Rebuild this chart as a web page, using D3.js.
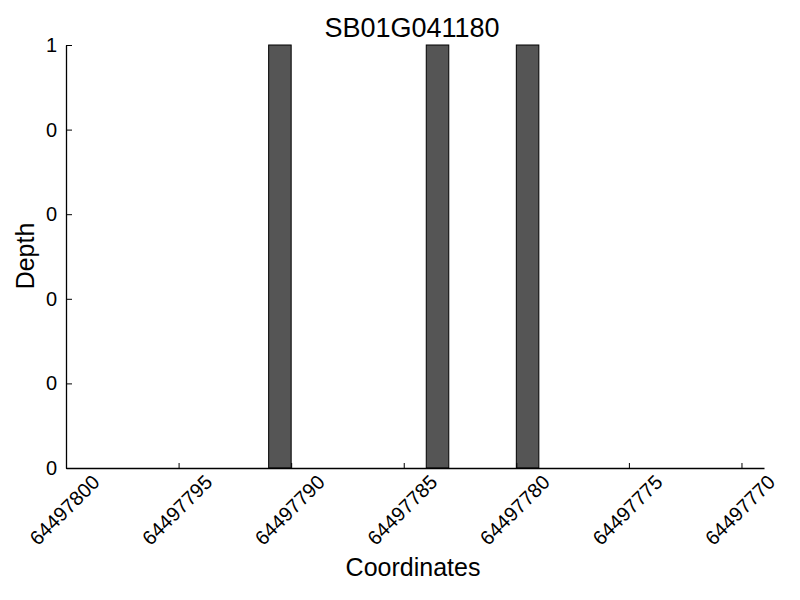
<!DOCTYPE html>
<html>
<head>
<meta charset="utf-8">
<script src="https://cdn.jsdelivr.net/npm/d3@7"></script>
<style>
body{margin:0;background:#fff;}
text{font-family:"Liberation Sans","DejaVu Sans",sans-serif;fill:#000;}
</style>
</head>
<body>
<svg id="chart" width="800" height="600"></svg>
<script>
const title = "SB01G041180";
const xLabel = "Coordinates";
const yLabel = "Depth";
// bar start coordinate (each bar spans one base, start -> start-1)
const barStarts = [64497791, 64497784, 64497780];
const barValues = [1, 1, 1];
const xTicks = [64497800, 64497795, 64497790, 64497785, 64497780, 64497775, 64497770];
const yTicks = [0, 0.2, 0.4, 0.6, 0.8, 1.0];
const yTickLabels = ["0", "0", "0", "0", "0", "1"];
const xDomain = [64497800, 64497769];
const yDomain = [0, 1];

const svg = d3.select("#chart");
const L = 66, R = 764, T = 45, B = 468;
const x = d3.scaleLinear().domain(xDomain).range([L, R]);
const y = d3.scaleLinear().domain(yDomain).range([B, T]);

// bars
svg.append("g").selectAll("rect").data(barStarts).join("rect")
  .attr("x", d => x(d))
  .attr("width", d => x(d - 1) - x(d))
  .attr("y", (d, i) => y(barValues[i]))
  .attr("height", (d, i) => y(0) - y(barValues[i]))
  .attr("fill", "#555555")
  .attr("stroke", "#000")
  .attr("stroke-width", 1);

// x axis
const xAxis = d3.axisBottom(x).tickValues(xTicks).tickSizeInner(-5).tickSizeOuter(0).tickFormat(d3.format("d"));
const gx = svg.append("g").attr("transform", `translate(0,${B})`).call(xAxis);
gx.select(".domain").attr("stroke", "#000").attr("stroke-width", 1.3);
gx.selectAll(".tick line").attr("stroke", "#000");
gx.selectAll(".tick text")
  .attr("font-size", 20)
  .attr("font-family", "Liberation Sans, sans-serif")
  .attr("text-anchor", "middle")
  .attr("dominant-baseline", "central")
  .attr("y", 0).attr("dy", null)
  .attr("transform", "translate(-2,42) rotate(-45)");

// y axis
const yAxis = d3.axisLeft(y).tickValues(yTicks).tickSizeInner(-6).tickSizeOuter(0).tickPadding(8)
  .tickFormat((d, i) => yTickLabels[i]);
const gy = svg.append("g").attr("transform", `translate(${L},0)`).call(yAxis);
gy.select(".domain").attr("stroke", "#000").attr("stroke-width", 1.3);
gy.selectAll(".tick line").attr("stroke", "#000");
gy.selectAll(".tick text").attr("font-size", 20).attr("font-family", "Liberation Sans, sans-serif").attr("x", -9);

// title
svg.append("text").attr("x", 412).attr("y", 37).attr("text-anchor", "middle")
  .attr("font-size", 27).text(title);
// axis labels
svg.append("text").attr("x", 413).attr("y", 576).attr("text-anchor", "middle")
  .attr("font-size", 25).text(xLabel);
svg.append("text").attr("transform", "translate(34,256) rotate(-90)").attr("text-anchor", "middle")
  .attr("font-size", 25).text(yLabel);
</script>
</body>
</html>
